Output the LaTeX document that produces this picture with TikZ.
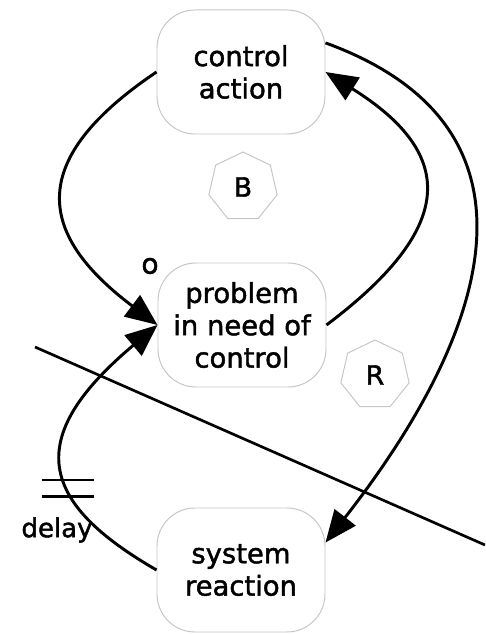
\documentclass[tikz,border=0pt]{standalone}
\usepackage{fontspec}
\setmainfont{DejaVu Sans}[BoldFont={DejaVu Sans},BoldFeatures={FakeBold=1.6}]
\usetikzlibrary{arrows.meta,shapes.geometric}

\begin{document}
\begin{tikzpicture}[
    box/.style={draw=gray!45,line width=0.7pt,rounded corners=0.95cm,
      minimum width=4.2cm,minimum height=3.1cm,align=center,
      font=\fontsize{19.5}{23}\selectfont\bfseries},
    loopsign/.style={draw=gray!45,line width=0.7pt,regular polygon,
      regular polygon sides=7,minimum size=1.75cm,inner sep=0pt,
      font=\fontsize{19}{22}\selectfont\bfseries},
    link/.style={line width=2.1pt,-{Triangle[length=0.8cm,width=0.66cm]}}]
  \useasboundingbox (0,0) rectangle (12.125,15.85);

  % the three states
  \node[box] (ca) at (6.025,14.05) {control\\action};
  \node[box] (pr) at (6.05,7.725) {problem\\in need of\\control};
  \node[box] (sr) at (6.025,1.6) {system\\reaction};

  % loop signs
  \node[loopsign] (B) at (6.075,11.175) {B};
  \node[loopsign] (R) at (9.375,6.475) {R};

  % links
  \draw[link] (ca.west) to[out=-146,in=143,looseness=1.56] (pr.west);
  \draw[link] (pr.east) to[out=37,in=-32,looseness=1.6] (ca.east);
  \draw[link] (ca.19) to[out=-20,in=52,out looseness=1.23,in looseness=1.43] (sr.18);
  \draw[link] (sr.west) to[out=150,in=220,out looseness=1.4,in looseness=1.85] (pr.west);

  \node[font=\fontsize{20}{22}\selectfont\bfseries] (pol) at (3.75,9.2) {o};

  % delay mark
  \coordinate (dly) at (1.7,3.64);
  \draw[line width=2pt] ([shift={(-0.66,0.21)}]dly) -- ++(1.32,0);
  \draw[line width=2pt] ([shift={(-0.66,-0.21)}]dly) -- ++(1.32,0);
  \node[font=\fontsize{18.5}{21}\selectfont\bfseries] (dlab) at (1.425,2.6) {delay};

  % boundary line
  \coordinate (cutA) at (0.875,7.175);
  \coordinate (cutB) at (12.125,2.225);
  \draw[line width=1.9pt] (cutA) -- (cutB);
\end{tikzpicture}
\end{document}
